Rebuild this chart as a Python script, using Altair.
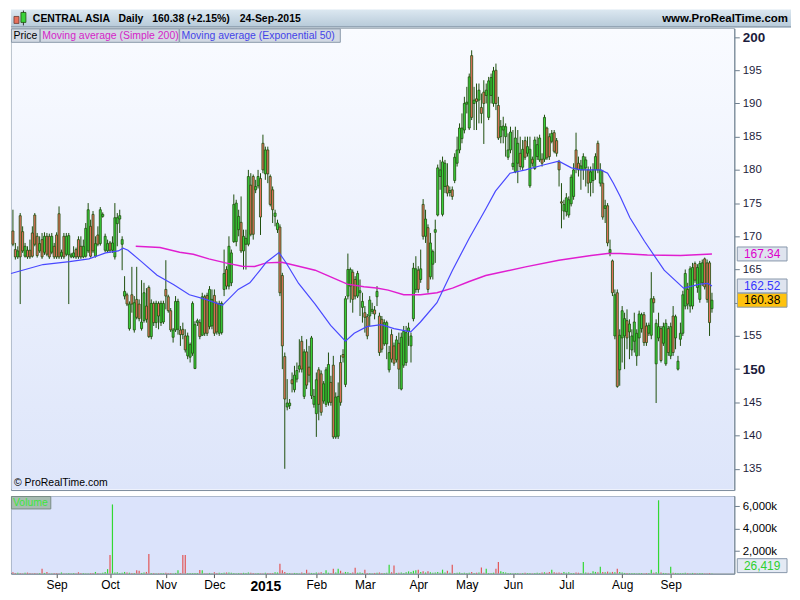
import altair as alt
import pandas as pd

# ---------------- data ----------------
stock_name = "CENTRAL ASIA"
period_name = "Daily"
last_date = "24-Sep-2015"

# daily candles (open, high, low, close), one list per month
aug14 = [(170.8,174.0,168.5,168.8),(168.0,169.0,166.5,166.9),(166.9,168.5,166.6,167.8),(173.1,173.5,159.8,166.9),
         (170.7,171.5,167.5,167.8),(167.0,169.0,166.8,168.5),(167.9,168.5,166.6,166.9),(167.9,169.5,166.6,166.9),
         (170.5,171.5,166.8,167.0),(173.2,173.5,168.5,168.8),(170.0,170.5,166.8,167.1),(167.8,170.0,167.5,168.9),
         (169.5,170.5,166.6,166.9),(167.6,170.6,167.2,170.0),(170.0,170.5,167.0,167.3),(170.0,170.4,166.6,166.9),
         (167.6,170.5,167.3,170.0),(168.5,169.0,166.6,166.9)]
sep14 = [(170.2,170.6,166.6,166.9),(173.4,174.5,166.6,166.9),(167.0,168.0,166.6,167.6),(170.0,170.5,166.6,166.9),
         (167.3,170.5,167.0,170.0),(167.2,170.5,159.8,170.1),(166.9,167.5,166.7,167.2),(166.9,168.5,166.7,167.5),
         (168.0,168.3,166.6,166.9),(169.5,170.0,166.6,166.9),(168.5,170.0,166.6,166.9),(166.9,169.5,166.7,168.5),
         (167.0,172.0,166.8,171.2),(167.8,175.0,167.5,174.0),(171.5,172.5,166.8,167.0),(173.3,173.8,167.5,167.8),
         (167.0,170.0,166.8,168.9),(170.2,171.5,168.5,168.8),(168.9,174.4,168.6,174.0),(173.0,173.6,172.8,173.3),
         (167.9,170.4,167.6,170.0),(167.8,169.5,167.5,168.9)]
oct14 = [(169.0,169.3,167.5,167.9),(167.9,170.0,167.5,169.0),(166.9,175.0,166.5,172.8),(171.9,173.5,168.5,172.8),
         (172.6,174.0,170.5,173.1),(168.8,170.0,164.9,169.5),(161.0,164.0,160.5,161.7),(161.2,161.5,159.5,159.8),
         (156.1,160.2,155.8,159.8),(161.2,165.4,158.5,159.8),(155.9,161.0,155.5,160.0),(160.5,165.4,157.5,157.8),
         (159.8,160.5,157.2,157.6),(156.1,163.4,155.8,157.1),(157.3,163.0,157.0,161.5),(159.5,162.2,157.0,157.5),
         (162.3,162.6,154.7,154.9),(154.9,160.5,154.5,159.9),(159.9,160.2,156.5,157.0),(157.0,160.3,156.2,159.9),
         (159.9,160.2,156.0,158.0),(157.0,160.3,156.5,159.9),(157.1,160.3,156.8,159.9)]
nov14 = [(162.0,166.4,159.0,161.0),(160.9,161.2,158.5,158.8),(158.8,159.2,155.6,155.9),(154.8,156.2,154.0,155.9),
         (155.9,161.0,155.6,160.2),(156.0,160.6,155.2,160.2),(155.9,156.5,153.5,155.2),(156.0,157.0,154.5,155.2),
         (155.0,156.0,152.5,152.9),(152.0,155.5,151.5,155.0),(151.8,154.0,151.0,153.7),(152.4,160.2,152.0,159.9),
         (150.1,157.2,150.0,156.7),(157.0,157.6,156.5,157.3),(157.0,157.5,154.5,154.9),(155.1,161.5,155.0,160.9),
         (160.9,161.2,155.0,155.4),(161.1,161.5,155.0,155.4),(156.4,162.5,156.0,162.0),(156.5,162.0,156.0,160.5)]
dec14 = [(161.1,162.0,155.0,155.4),(159.9,160.2,155.2,155.6),(155.4,160.3,155.0,159.9),(155.5,160.2,155.2,159.9),
         (162.0,168.0,161.0,164.4),(165.0,165.5,162.0,162.5),(162.5,170.0,162.0,168.5),(163.0,168.0,162.5,167.5),
         (169.2,176.3,169.0,174.8),(169.2,175.5,168.5,175.0),(171.0,174.0,170.0,173.0),(172.1,176.0,167.5,167.8),
         (167.8,171.0,165.0,170.0),(168.8,171.0,165.0,169.7),(168.8,180.0,168.5,179.0),(177.7,179.5,170.0,170.3),
         (179.0,179.3,169.5,170.3),(177.0,178.5,176.5,177.5),(177.6,180.0,177.2,179.0),(178.7,179.5,170.2,172.9),
         (184.0,185.3,179.5,180.0)]
jan15 = [(179.4,183.5,178.5,183.0),(183.0,183.5,178.0,179.4),(179.0,179.3,174.5,174.8),(177.0,177.5,172.0,174.0),
         (173.0,174.0,171.5,173.5),(171.0,172.5,170.5,172.0),(171.4,171.8,161.0,161.5),(164.1,164.5,150.0,153.5),
         (151.9,152.5,135.0,145.5),(144.3,148.5,143.8,144.9),(144.5,145.5,144.0,144.9),(148.4,149.5,146.5,147.8),
         (146.9,150.5,146.5,149.1),(148.5,151.0,148.0,149.8),(150.0,154.5,149.5,150.5),(154.2,155.0,149.5,150.0),
         (145.9,153.0,145.5,152.6),(152.6,154.5,147.0,147.6),(150.3,153.5,148.0,149.1),(146.0,155.0,145.5,154.7),
         (144.7,147.0,144.2,145.9)]
feb15 = [(143.3,149.5,139.8,148.4),(149.9,150.3,142.3,144.7),(149.3,149.8,143.0,143.5),(145.2,148.2,144.8,147.8),
         (144.7,150.3,144.3,149.9),(145.0,152.5,144.5,150.7),(148.0,149.0,144.5,145.0),(150.6,152.0,139.5,139.8),
         (139.8,146.5,139.5,145.8),(139.9,148.0,139.5,145.9),(151.0,152.1,144.5,145.0),(152.2,153.0,151.0,151.8),
         (147.7,161.0,147.3,160.6),(161.0,167.4,160.5,165.0),(162.5,165.3,160.0,165.0),(164.6,165.0,158.5,160.5),
         (163.5,164.0,160.5,161.0),(161.0,164.8,160.7,164.4),(161.5,163.5,158.0,161.8),(159.3,161.5,157.0,160.2)]
mar15 = [(158.5,159.5,155.5,157.8),(157.9,158.3,154.5,155.0),(158.0,161.0,156.5,160.4),(158.7,160.0,158.3,159.0),
         (158.9,159.5,157.5,158.3),(160.9,162.5,159.5,161.7),(158.0,158.5,152.0,152.5),(157.5,158.0,152.5,153.0),
         (153.8,157.5,153.5,157.0),(153.8,157.3,151.5,157.0),(149.9,153.5,149.5,152.5),(155.2,156.0,151.0,151.5),
         (153.5,154.0,150.5,150.9),(151.4,155.0,151.0,154.4),(153.9,155.5,147.0,150.0),(147.0,155.5,146.8,154.8),
         (150.6,156.5,150.2,155.7),(151.0,156.5,150.5,155.5),(155.7,157.0,153.5,156.2),(153.5,155.5,151.0,155.0),
         (157.6,166.0,157.2,165.2),(162.0,167.0,161.5,165.1)]
apr15 = [(164.9,165.5,161.5,162.0),(163.5,168.0,163.0,165.1),(174.8,175.6,169.5,170.0),(170.0,174.0,169.0,172.6),
         (171.3,171.8,161.5,162.0),(163.9,170.5,163.5,169.0),(165.8,168.0,163.5,167.7),(170.6,172.5,166.0,171.0),
         (173.2,180.8,173.0,180.3),(179.0,181.5,177.0,180.0),(173.3,182.0,173.0,181.2),(177.5,181.5,176.5,181.0),
         (177.6,181.0,176.0,176.5),(176.6,177.5,176.0,176.9),(177.0,177.5,175.5,176.0),(178.4,182.5,178.0,181.9),
         (181.0,185.0,180.5,183.0),(183.0,187.0,182.5,186.3),(184.7,188.5,184.0,186.3),(186.0,191.0,185.5,190.0)]
may15 = [(189.9,192.5,188.5,190.2),(186.3,194.5,186.0,194.0),(197.2,198.0,187.5,187.9),(190.0,192.5,186.0,190.5),
         (190.7,193.0,186.0,190.3),(190.5,193.0,187.0,192.0),(189.4,191.5,187.0,188.5),(191.7,193.5,183.9,190.0),
         (191.2,193.0,190.0,192.0),(187.9,194.0,187.5,193.4),(191.2,194.5,190.0,193.9),(190.0,195.5,189.5,194.9),
         (195.0,196.0,189.0,190.0),(189.7,191.0,184.5,184.8),(185.0,187.5,184.0,186.5),(186.0,188.0,184.0,186.6),
         (185.0,187.0,182.0,186.5),(181.9,185.5,181.5,183.0),(183.0,186.5,182.5,185.7)]
jun15 = [(180.5,186.0,180.0,181.0),(179.7,186.5,179.5,184.8),(181.0,186.0,178.0,184.0),(182.5,185.0,180.0,180.5),
         (180.4,184.5,180.0,183.1),(184.4,185.0,181.5,181.9),(182.5,185.0,182.0,183.5),(177.6,185.0,177.3,183.1),
         (181.6,182.0,180.5,181.0),(180.2,185.0,180.0,184.5),(182.0,185.0,181.5,183.8),(181.5,185.3,181.2,184.8),
         (181.6,182.5,180.5,181.0),(181.6,188.3,181.2,187.9),(186.3,186.5,181.5,181.8),(185.0,185.5,181.5,182.0),
         (184.3,186.0,184.0,185.5),(185.6,186.0,182.5,182.8),(184.4,184.8,182.0,182.5),(181.2,181.5,177.5,180.0),
         (175.2,178.0,171.2,175.0),(173.8,175.5,172.5,174.8)]
jul15 = [(173.7,176.5,173.0,175.8),(173.2,176.0,172.8,175.5),(174.9,179.3,174.5,178.9),(176.0,181.0,175.5,180.0),
         (183.0,185.6,179.5,180.2),(181.0,182.0,179.0,180.0),(180.0,181.5,177.0,180.6),(180.0,182.5,178.5,182.0),
         (180.3,182.0,177.5,181.5),(180.0,180.5,176.5,178.0),(178.1,180.5,176.0,179.7),(178.4,181.0,176.5,180.0),
         (180.0,182.5,178.5,182.0),(184.0,184.4,179.5,180.0),(178.0,181.0,177.5,180.0),(178.0,180.0,172.5,172.9),
         (174.2,175.5,172.0,174.6),(174.6,175.0,168.5,169.0),(167.5,169.5,167.0,168.0),(166.3,166.5,161.0,161.5),
         (155.0,162.0,154.5,161.2),(161.5,162.0,147.2,147.4),(149.9,156.0,147.5,155.1)]
aug15 = [(154.7,159.5,151.0,158.8),(155.0,158.5,150.0,157.6),(157.3,159.0,153.0,154.7),(155.6,157.5,151.5,156.8),
         (152.9,156.0,152.0,155.0),(154.2,158.5,152.5,157.1),(152.0,156.0,150.5,155.4),(154.7,158.8,152.0,158.3),
         (156.1,158.5,155.5,158.2),(158.2,158.6,153.5,154.0),(156.5,157.0,153.5,154.0),(155.4,157.0,155.0,156.6),
         (155.1,164.6,154.5,160.6),(160.6,161.0,158.5,160.0),(150.8,157.5,144.9,156.9),(154.7,158.5,154.2,156.4),
         (156.1,156.5,151.0,151.3),(153.9,157.0,153.5,156.4),(150.8,157.5,150.5,156.9),(156.1,156.5,152.0,152.5)]
sep15 = [(152.0,157.0,151.5,156.4),(158.0,159.5,152.0,152.5),(154.7,158.2,153.0,157.9),(150.0,152.0,149.8,151.2),
         (154.5,157.0,153.5,155.4),(155.4,161.8,155.0,161.2),(159.5,165.0,159.0,164.4),(162.0,163.0,159.0,159.8),
         (159.5,165.5,158.5,165.1),(159.5,166.0,159.0,165.3),(165.9,166.2,163.0,163.4),(162.3,165.8,161.5,165.3),
         (160.5,166.3,160.0,165.9),(163.0,166.5,162.5,166.0),(166.6,166.8,162.0,162.4),(166.0,166.5,160.0,160.5),
         (166.0,166.3,155.0,157.01),(159.1,161.5,158.5,160.38)]

# daily volume, thousands of shares
vaug14 = [120,60,80,50,40,70,90,50,40,60,30,50,440,60,150,40,30,50]
vsep14 = [60,40,100,30,40,50,30,60,40,120,60,50,40,30,50,60,150,60,40,80,150,400]
voct14 = [1650,6150,90,120,60,80,150,100,80,60,50,300,250,60,100,150,1740,60,50,40,30,50,40]
vnov14 = [80,60,50,40,60,300,50,1650,1650,60,50,40,60,50,320,300,40,30,60,40]
vdec14 = [120,60,80,50,70,100,90,80,60,40,60,50,70,60,90,80,60,40,50,30,40]
vjan15 = [80,60,50,60,120,100,870,300,150,60,50,40,60,50,40,100,60,350,80,60,50]
vfeb15 = [100,80,120,60,300,80,60,440,100,440,250,80,150,120,60,100,520,80,100,60]
vmar15 = [350,60,50,40,60,80,100,60,50,80,780,120,720,60,80,100,60,120,200,150,250,300]
vapr15 = [350,150,200,100,200,120,80,100,150,80,350,100,250,80,780,60,80,100,60,80]
vmay15 = [60,80,150,60,80,100,550,80,440,60,50,80,440,1040,200,150,100,60,50]
vjun15 = [40,60,50,40,60,80,50,60,40,50,80,60,100,120,80,150,350,120,80,100,60,150]
vjul15 = [80,120,60,50,100,80,60,1040,100,80,60,200,150,120,610,150,120,180,100,150,120,440,150]
vaug15 = [100,60,50,40,60,50,40,60,50,40,50,60,350,80,120,6520,100,60,50,40]
vsep15 = [610,80,60,50,40,60,80,50,40,60,50,40,60,50,40,30,50,26.419]

month_labels = ["Aug", "Sep", "Oct", "Nov", "Dec", "2015", "Feb", "Mar", "Apr", "May", "Jun", "Jul", "Aug", "Sep"]
candle_months = [aug14, sep14, oct14, nov14, dec14, jan15, feb15, mar15, apr15, may15, jun15, jul15, aug15, sep15]
volume_months = [vaug14, vsep14, voct14, vnov14, vdec14, vjan15, vfeb15, vmar15, vapr15, vmay15, vjun15, vjul15, vaug15, vsep15]

# moving averages (bar index, value)
ema50_idx = [-0.8, 12.4, 23.3, 31.3, 38.2, 43.4, 45.4, 47.4, 52.6, 59.4, 66.3, 72.7, 79.5, 86.3, 92.8, 97.6,
             101.6, 104.4, 109.6, 112.4, 117.7, 124.5, 130.9, 137.0, 140.6, 145.8, 151.8, 157.0, 163.9, 167.9,
             174.7, 181.1, 188.0, 194.8, 198.8, 204.8, 211.2, 218.1, 224.9, 230.1, 234.1, 242.2, 245.0, 247.4,
             250.2, 254.2, 260.2, 268.3, 276.3, 283.1, 286.3, 288.0]
ema50_val = [164.4, 165.75, 166.2, 166.6, 167.5, 167.8, 168.2, 167.9, 166.3, 164.15, 162.7, 161.2, 160.5, 159.6,
             162.0, 163.0, 164.8, 166.1, 167.55, 166.1, 162.9, 159.8, 156.6, 154.2, 155.4, 156.4, 156.7, 156.1,
             155.6, 157.1, 160.0, 164.9, 169.7, 174.1, 176.8, 179.5, 180.0, 180.7, 181.3, 180.3, 180.0, 180.0,
             179.5, 178.0, 176.0, 172.8, 169.25, 164.9, 162.2, 162.8, 162.9, 162.52]
sma200_idx = [50.6, 60.6, 68.7, 74.3, 80.7, 87.6, 94.4, 99.6, 104.4, 110.8, 117.7, 124.5, 130.9, 137.8, 144.6,
              149.8, 154.6, 161.0, 167.9, 174.7, 181.1, 188.0, 194.8, 200.0, 211.2, 224.9, 238.2, 245.0, 250.2,
              261.4, 275.1, 288.0]
sma200_val = [168.5, 168.3, 167.6, 167.3, 166.6, 166.0, 165.5, 165.45, 166.0, 166.1, 165.5, 164.9, 163.9, 162.8,
              162.4, 162.2, 161.9, 161.2, 161.2, 161.5, 162.2, 163.2, 164.1, 164.5, 165.4, 166.4, 167.1, 167.4,
              167.4, 167.2, 167.1, 167.34]

# ---------------- tables ----------------
rows = []
tick_idx = []
i = 0
for mi, (cm, vm) in enumerate(zip(candle_months, volume_months)):
    if mi > 0:
        tick_idx.append(i)
    for (o, h, l, c), v in zip(cm, vm):
        rows.append({"i": i, "open": o, "high": h, "low": l, "close": c, "vol": v,
                     "dir": "up" if c >= o else "down"})
        i += 1
df = pd.DataFrame(rows)
df["x0"] = df["i"] - 0.42
df["x1"] = df["i"] + 0.42
df["top"] = df[["open", "close"]].max(axis=1)
df["bot"] = df[["open", "close"]].min(axis=1)

tick_labels = month_labels[1:]
year_idx = tick_idx[tick_labels.index("2015")]
label_expr = "".join(f"datum.value == {t} ? '{lab}' : " for t, lab in zip(tick_idx, tick_labels)) + "''"

last_close = df["close"].iloc[-1]
prev_close = df["close"].iloc[-2]
chg = (last_close / prev_close - 1) * 100
last_vol = df["vol"].iloc[-1] * 1000

ema_df = pd.DataFrame({"i": ema50_idx, "v": ema50_val})
sma_df = pd.DataFrame({"i": sma200_idx, "v": sma200_val})
flags = pd.DataFrame({
    "v": [sma200_val[-1], ema50_val[-1], last_close],
    "label": [f"{sma200_val[-1]:.2f}", f"{ema50_val[-1]:.2f}", f"{last_close:.2f}"],
    "tc": ["#dd00cc", "#3535ff", "#000000"],
    "fc": ["#dfe4ef", "#dfe4ef", "#ffc20e"],
})
flags["lo"] = flags["v"] - 1.05
flags["hi"] = flags["v"] + 1.05
one = pd.DataFrame({"k": [0]})

# ---------------- layout ----------------
FONT = "Liberation Sans"
W = 727
TOTAL_W = 784
H_HEAD = 18
H_PRICE = 464
H_VOL = 78
X_DOM = [-0.8, 297.2]
Y_DOM = [131.8, 201.3]
OUTLINE = "#1f4f0e"

xs = alt.Scale(domain=X_DOM, nice=False, zero=False)
ys = alt.Scale(domain=Y_DOM, nice=False, zero=False)

def grad(c0, c1):
    return alt.Gradient(gradient="linear", x1=0, x2=0, y1=0, y2=1,
                        stops=[alt.GradientStop(color=c0, offset=0), alt.GradientStop(color=c1, offset=1)])

# header
head_bg = alt.Chart(one).mark_rect(fill=grad("#dce8f1", "#b6c9d8")).encode(
    x=alt.value(0), x2=alt.value(TOTAL_W), y=alt.value(0), y2=alt.value(H_HEAD))
head_line = alt.Chart(one).mark_rule(color="#7d8e9e").encode(
    x=alt.value(0), x2=alt.value(TOTAL_W), y=alt.value(H_HEAD - 0.5))
icon_r = alt.Chart(one).mark_rect(fill="#e8705c", stroke="#6a3a30", strokeWidth=0.8).encode(
    x=alt.value(3), x2=alt.value(8), y=alt.value(7), y2=alt.value(14))
icon_g = alt.Chart(one).mark_rect(fill="#3ad23a", stroke="#1f4f0e", strokeWidth=0.8).encode(
    x=alt.value(10), x2=alt.value(15), y=alt.value(3), y2=alt.value(13))
icon_w = alt.Chart(one).mark_rule(color="#333333").encode(
    x=alt.value(12.5), y=alt.value(1), y2=alt.value(16))
head_parts = [stock_name, period_name, f"{last_close:.2f} ({chg:+.2f}%)", last_date]
head_x = [22, 108, 142, 230]
head_texts = [alt.Chart(one).mark_text(align="left", baseline="middle", fontSize=10.5, fontWeight="bold",
                                       font=FONT, color="#000000").encode(
    x=alt.value(px), y=alt.value(H_HEAD / 2 + 0.5), text=alt.value(t)) for t, px in zip(head_parts, head_x)]
head_site = alt.Chart(one).mark_text(align="right", baseline="middle", fontSize=11.5, fontWeight="bold",
                                     font=FONT, color="#000000").encode(
    x=alt.value(TOTAL_W - 3), y=alt.value(H_HEAD / 2 + 0.5), text=alt.value("www.ProRealTime.com"))
header = alt.layer(head_bg, head_line, icon_r, icon_w, icon_g, *head_texts, head_site).properties(
    width=TOTAL_W, height=H_HEAD, view=alt.ViewBackground(stroke=None))

# price panel (the 160 label sits under the last-price flag, as in the source)
price_axis = alt.Axis(
    orient="right", values=list(range(135, 201, 5)), title=None, grid=False,
    labelExpr=f"abs(datum.value - {last_close}) < 1.2 ? '' : datum.label",
    tickSize=5, tickColor="#6d7d8d", domainColor="#7b8b9b", labelColor="#1c1c3c",
    labelPadding=3, labelFont=FONT, zindex=0,
    labelFontSize={"condition": {"test": "datum.value % 50 === 0", "value": 13.5}, "value": 11.5},
    labelFontWeight={"condition": {"test": "datum.value % 50 === 0", "value": "bold"}, "value": "normal"},
)

def PY(field):
    return alt.Y(field, scale=ys, axis=price_axis, title=None)

def PX(field):
    return alt.X(field, scale=xs, axis=None, title=None)

p_bg = alt.Chart(one).mark_rect(fill=grad("#f9fbff", "#dde5fa")).encode(
    x=alt.value(0.5), x2=alt.value(W - 0.5), y=alt.value(0.5), y2=alt.value(H_PRICE - 0.5))
wicks = alt.Chart(df).mark_rule(color=OUTLINE, strokeWidth=1).encode(
    x=PX("i:Q"), y=PY("low:Q"), y2="high:Q")
bodies = alt.Chart(df).mark_rect(stroke=OUTLINE, strokeWidth=0.8).encode(
    x=PX("x0:Q"), x2="x1:Q", y=PY("bot:Q"), y2="top:Q",
    fill=alt.Fill("dir:N", scale=alt.Scale(domain=["up", "down"], range=["#3ad23a", "#e8735e"]), legend=None))
sma_line = alt.Chart(sma_df).mark_line(color="#e01ed0", strokeWidth=1.5).encode(x=PX("i:Q"), y=PY("v:Q"))
ema_line = alt.Chart(ema_df).mark_line(color="#4848ff", strokeWidth=1.2).encode(x=PX("i:Q"), y=PY("v:Q"))

legend_items = [("Price", "#000000", 0, 29), ("Moving average (Simple 200)", "#d51fc8", 29, 169),
                ("Moving average (Exponential 50)", "#4444e8", 169, 331)]
leg_layers = []
for txt, col, a, b in legend_items:
    leg_layers.append(alt.Chart(one).mark_rect(fill="#d2d9e3", stroke="#8b9aaa", strokeWidth=1).encode(
        x=alt.value(a + 0.5), x2=alt.value(b), y=alt.value(0.5), y2=alt.value(14)))
    leg_layers.append(alt.Chart(one).mark_text(align="left", baseline="middle", fontSize=10.5, font=FONT,
                                               color=col).encode(
        x=alt.value(a + 2.5), y=alt.value(7.5), text=alt.value(txt)))
copyright_t = alt.Chart(one).mark_text(align="left", baseline="alphabetic", fontSize=10.5, font=FONT,
                                       color="#000000").encode(
    x=alt.value(3), y=alt.value(H_PRICE - 4), text=alt.value("© ProRealTime.com"))
flag_box = alt.Chart(flags).mark_rect(stroke="#8797aa", strokeWidth=1).encode(
    x=alt.value(W + 3), x2=alt.value(W + 53), y=PY("lo:Q"), y2="hi:Q",
    fill=alt.Fill("fc:N", scale=None))
flag_txt = alt.Chart(flags).mark_text(align="center", baseline="middle", fontSize=12, font=FONT).encode(
    x=alt.value(W + 28), y=PY("v:Q"), text="label:N", color=alt.Color("tc:N", scale=None))
price = alt.layer(p_bg, wicks, bodies, sma_line, ema_line, *leg_layers, copyright_t, flag_box, flag_txt).properties(
    width=W, height=H_PRICE, view=alt.ViewBackground(stroke="#7b8b9b", strokeWidth=1))

# volume panel
vs = alt.Scale(domain=[0, 6900], nice=False, zero=True)
x_axis = alt.Axis(
    orient="bottom", values=tick_idx, labelExpr=label_expr, title=None, grid=False,
    tickSize=4, tickColor="#555555", domainColor="#7b8b9b", labelColor="#000000", labelFont=FONT,
    labelPadding=2, labelFlush=False, labelOverlap=False,
    labelFontSize={"condition": {"test": f"datum.value === {year_idx}", "value": 14}, "value": 12},
    labelFontWeight={"condition": {"test": f"datum.value === {year_idx}", "value": "bold"}, "value": "normal"},
)
vol_axis = alt.Axis(orient="right", values=[2000, 4000, 6000], labelExpr="format(datum.value, ',') + 'k'",
                    title=None, grid=False, tickSize=5, tickColor="#6d7d8d", domainColor="#7b8b9b",
                    labelColor="#000000", labelFont=FONT, labelFontSize=11.5, labelPadding=3, zindex=0)
v_bg = alt.Chart(one).mark_rect(fill="#dbe3fb").encode(
    x=alt.value(0.5), x2=alt.value(W - 0.5), y=alt.value(0.5), y2=alt.value(H_VOL - 0.5))
v_bars = alt.Chart(df).mark_rule(strokeWidth=1.2).encode(
    x=alt.X("i:Q", scale=xs, axis=x_axis),
    y=alt.Y("vol:Q", scale=vs, axis=vol_axis),
    y2=alt.datum(0),
    color=alt.Color("dir:N", scale=alt.Scale(domain=["up", "down"], range=["#32d832", "#e25656"]), legend=None))
v_label_box = alt.Chart(one).mark_rect(fill="#a7bcb2", stroke="#7a8c86", strokeWidth=1).encode(
    x=alt.value(0.5), x2=alt.value(40), y=alt.value(0.5), y2=alt.value(13))
v_label = alt.Chart(one).mark_text(align="left", baseline="middle", fontSize=10.5, font=FONT,
                                   color="#3ce63c").encode(
    x=alt.value(2), y=alt.value(7), text=alt.value("Volume"))
v_flag_box = alt.Chart(one).mark_rect(fill="#e4eaf4", stroke="#8797aa", strokeWidth=1).encode(
    x=alt.value(W + 3), x2=alt.value(W + 53), y=alt.value(H_VOL - 15), y2=alt.value(H_VOL - 1))
v_flag = alt.Chart(one).mark_text(align="center", baseline="middle", fontSize=12, font=FONT,
                                  color="#2ed02e").encode(
    x=alt.value(W + 28), y=alt.value(H_VOL - 8), text=alt.value(f"{last_vol:,.0f}"))
volume = alt.layer(v_bg, v_bars, v_label_box, v_label, v_flag_box, v_flag).properties(
    width=W, height=H_VOL, view=alt.ViewBackground(stroke="#7b8b9b", strokeWidth=1))

body_panels = alt.vconcat(price, volume, spacing=4).resolve_scale(x="independent", y="independent",
                                                                   color="independent", fill="independent")
chart = alt.vconcat(header, body_panels, spacing=0).resolve_scale(
    x="independent", y="independent", color="independent", fill="independent").properties(
    padding=0, background="#ffffff").configure(font=FONT)

chart.save("out.html", embed_options={"renderer": "svg", "actions": False})
